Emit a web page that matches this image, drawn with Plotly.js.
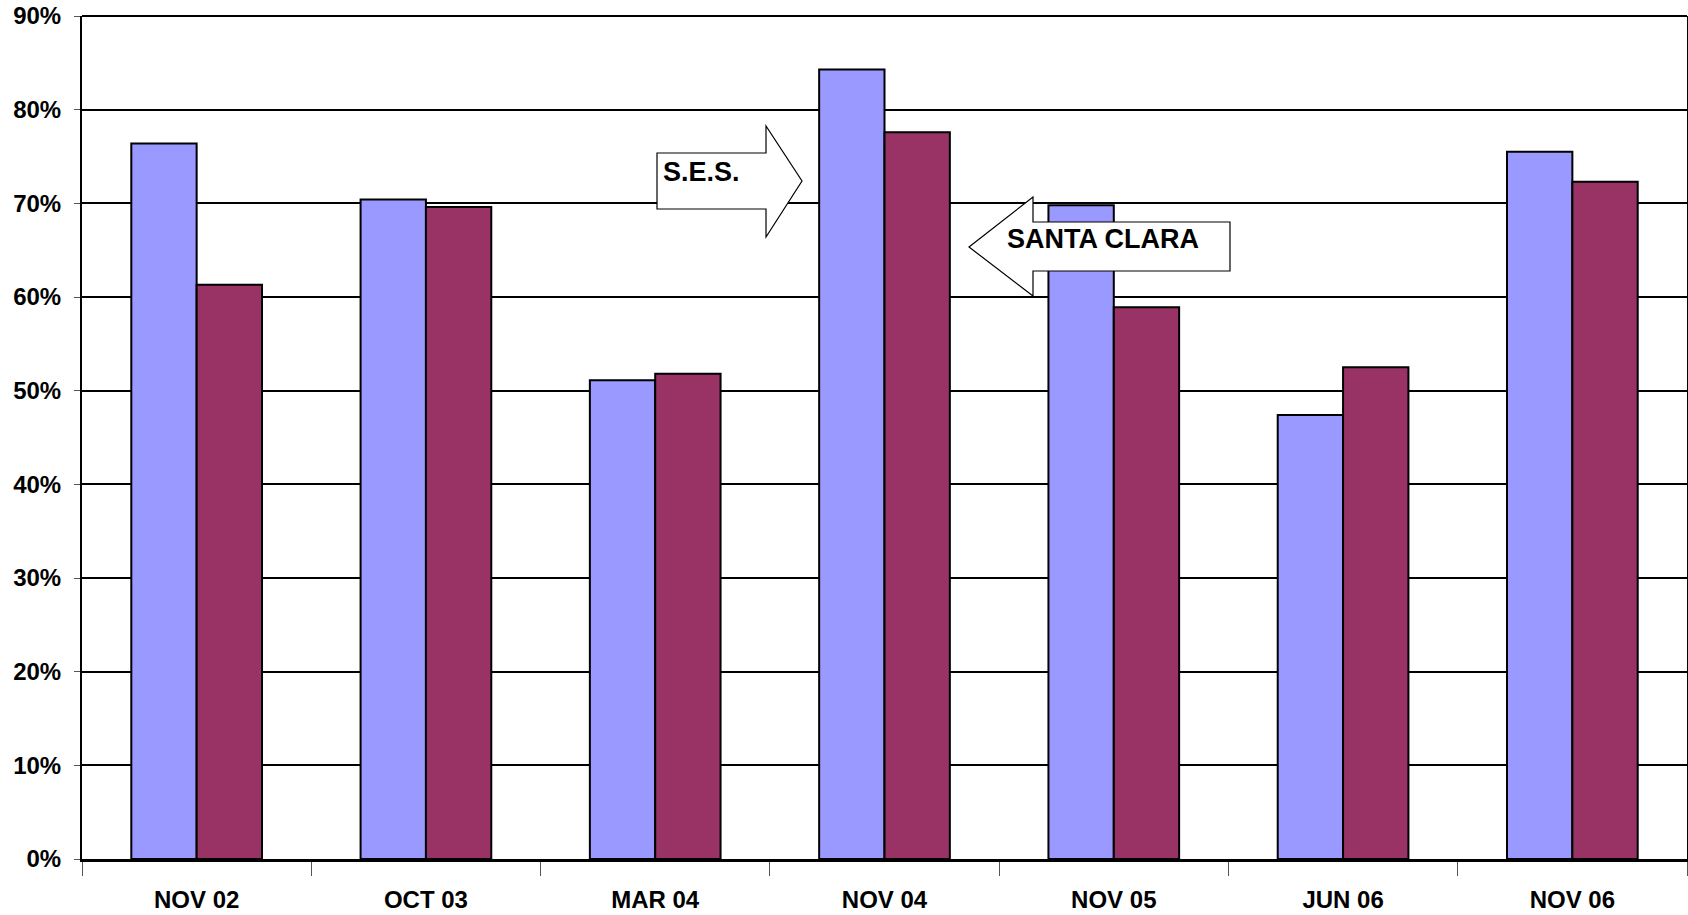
<!DOCTYPE html>
<html>
<head>
<meta charset="utf-8">
<script src="https://cdn.plot.ly/plotly-3.0.1.min.js"></script>
<style>html,body{margin:0;padding:0;background:#fff;}#chart{width:1688px;height:915px;}</style>
</head>
<body>
<div id="chart"></div>
<script>
const categories = ["NOV 02","OCT 03","MAR 04","NOV 04","NOV 05","JUN 06","NOV 06"];
const sesValues = [76.4, 70.4, 51.1, 84.3, 69.8, 47.4, 75.5];
const santaClaraValues = [61.3, 69.6, 51.8, 77.6, 58.9, 52.5, 72.3];
const yTickValues = [0,10,20,30,40,50,60,70,80,90];
const sesLabel = "S.E.S.";
const santaClaraLabel = "SANTA CLARA";

const W = 1688, H = 915;
const L = 82, R = 1687, T = 16, B = 859;
function px(x){ return (x - L) / (R - L); }
function py(y){ return (B - y) / (B - T); }
function path(pts){ return 'M' + pts.map(p => px(p[0]).toFixed(5) + ',' + py(p[1]).toFixed(5)).join(' L') + ' Z'; }

const fam = 'Liberation Sans, Arial, sans-serif';

const traces = [
  {type:'bar', name:sesLabel, x:categories, y:sesValues,
   marker:{color:'#9999FF', line:{color:'#000', width:2}}},
  {type:'bar', name:santaClaraLabel, x:categories, y:santaClaraValues,
   marker:{color:'#993366', line:{color:'#000', width:2}}}
];

const layout = {
  width: W, height: H,
  margin: {l: L, r: W - R, t: T, b: H - B, pad: 0},
  paper_bgcolor: '#fff', plot_bgcolor: '#fff',
  showlegend: false,
  barmode: 'group', bargap: 0.43, bargroupgap: 0,
  font: {family: fam, size: 24, color: '#000', weight: 'bold'},
  xaxis: {
    type: 'category', showgrid: false, showline: true, linecolor: '#000', linewidth: 3,
    ticks: 'outside', tickson: 'boundaries', ticklen: 14, tickcolor: '#555', tickwidth: 1,
    ticklabelstandoff: 17, tickfont: {family: fam, size: 24, color: '#000', weight: 'bold'},
    zeroline: false
  },
  yaxis: {
    range: [0, 90], tickvals: yTickValues, ticktext: yTickValues.map(v => v + '%'),
    showgrid: true, gridcolor: '#000', gridwidth: 2,
    showline: true, linecolor: '#000', linewidth: 2, mirror: true,
    ticks: 'outside', ticklen: 6, tickcolor: '#555', tickwidth: 1,
    ticklabelstandoff: 8,
    tickfont: {family: fam, size: 24, color: '#000', weight: 'bold'},
    zeroline: false
  },
  shapes: [
    {type:'line', xref:'paper', yref:'paper', x0:0, x1:1, y0:1, y1:1, layer:'above',
     line:{color:'#000', width:2}},
    {type:'path', xref:'paper', yref:'paper', layer:'above',
     path: path([[657,153],[766,153],[766,126],[802,181],[766,237],[766,209],[657,209]]),
     fillcolor:'#fff', line:{color:'#000', width:1.2}},
    {type:'path', xref:'paper', yref:'paper', layer:'above',
     path: path([[969,247],[1033,197],[1033,222],[1230,222],[1230,271],[1033,271],[1033,296]]),
     fillcolor:'#fff', line:{color:'#000', width:1.2}}
  ],
  annotations: [
    {xref:'paper', yref:'paper', x:px(661), y:py(172), xanchor:'left', yanchor:'middle',
     text:sesLabel, showarrow:false, font:{family:fam, size:27, color:'#000', weight:'bold'}},
    {xref:'paper', yref:'paper', x:px(1005), y:py(239), xanchor:'left', yanchor:'middle',
     text:santaClaraLabel, showarrow:false, font:{family:fam, size:27, color:'#000', weight:'bold'}}
  ]
};

Plotly.newPlot('chart', traces, layout, {displayModeBar:false, staticPlot:true});
</script>
</body>
</html>
